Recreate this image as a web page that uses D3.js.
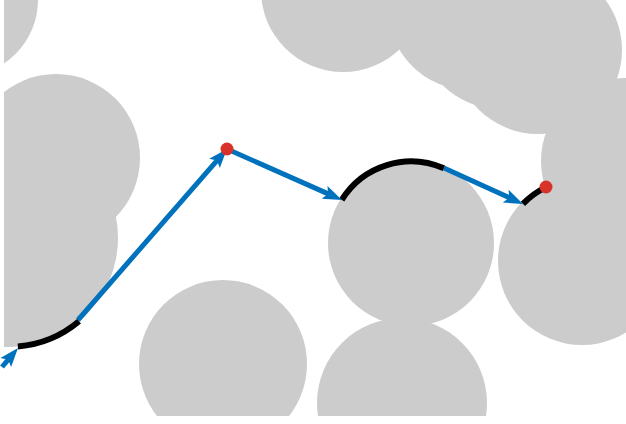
<!DOCTYPE html>
<html lang="en">
<head>
    <meta charset="UTF-8">
    <title>Path around obstacles</title>
    <style>
        body {
            margin: 0;
            background-color: #ffffff;
        }
        svg {
            display: block;
        }
    </style>
</head>
<body>
    <div id="chart"></div>

    <script src="https://cdn.jsdelivr.net/npm/d3@7"></script>
    <script>
        // obstacles (map units, y up)
        const obsX = [-4.2, 5.2, 0.5, 33.9, 46.6, 49.6, 53.4, 62.0, 40.7, 57.8, 21.9, 39.8];
        const obsY = [41.6, 25.8, 17.8, 42.6, 40.8, 38.8, 36.6, 25.5, 17.3, 15.5, 5.2, 1.3];
        const obsR = [7.6, 8.4, 10.9, 8.2, 8.2, 8.1, 8.4, 8.3, 8.3, 8.4, 8.4, 8.5];

        // path waypoints
        const pathX = [-0.2, 1.4, 7.4, 22.3, 33.8, 44.0, 51.9, 54.2];
        const pathY = [4.9, 6.8, 9.6, 26.7, 21.6, 24.8, 21.2, 22.9];

        // straight legs (with arrow) and arcs hugging an obstacle
        const lineFrom = [0, 2, 3, 5];
        const lineTo = [1, 3, 4, 6];
        const arcFrom = [1, 4, 6];
        const arcTo = [2, 5, 7];
        const arcOn = [2, 8, 9];

        // waypoints reached
        const goals = [3, 7];

        const width = 626;
        const height = 424;

        const x = d3.scaleLinear().domain([0, 62.2]).range([4, 626]);
        const y = d3.scaleLinear().domain([0, 41.6]).range([416, 0]);
        const len = r => x(r) - x(0);

        const blue = "#0072bd";

        const svg = d3.select("#chart").append("svg")
            .attr("width", width)
            .attr("height", height);

        svg.append("clipPath").attr("id", "plot")
            .append("rect")
            .attr("x", x(0)).attr("y", y(41.6))
            .attr("width", x(62.2) - x(0))
            .attr("height", y(0) - y(41.6));

        svg.append("g")
            .attr("clip-path", "url(#plot)")
            .selectAll("circle")
            .data(d3.range(obsX.length))
            .join("circle")
            .attr("cx", i => x(obsX[i]))
            .attr("cy", i => y(obsY[i]))
            .attr("r", i => len(obsR[i]))
            .attr("fill", "#cccccc");

        const px = i => x(pathX[i]);
        const py = i => y(pathY[i]);

        // straight legs, shortened so the head covers the end
        const headLen = 19, headHalf = 7;
        const legs = d3.range(lineFrom.length).map(k => {
            const x0 = px(lineFrom[k]), y0 = py(lineFrom[k]);
            const x1 = px(lineTo[k]), y1 = py(lineTo[k]);
            const d = Math.hypot(x1 - x0, y1 - y0);
            return {x0, y0, x1, y1, ux: (x1 - x0) / d, uy: (y1 - y0) / d};
        });

        svg.append("g")
            .selectAll("line")
            .data(legs)
            .join("line")
            .attr("x1", d => d.x0)
            .attr("y1", d => d.y0)
            .attr("x2", d => d.x1 - d.ux * 12)
            .attr("y2", d => d.y1 - d.uy * 12)
            .attr("stroke", blue)
            .attr("stroke-width", 5);

        // arcs around obstacles
        svg.append("g")
            .selectAll("path")
            .data(d3.range(arcFrom.length))
            .join("path")
            .attr("d", k => {
                const o = arcOn[k];
                const cx = x(obsX[o]), cy = y(obsY[o]);
                const a = arcFrom[k], b = arcTo[k];
                const a0 = Math.atan2(py(a) - cy, px(a) - cx);
                const a1 = Math.atan2(py(b) - cy, px(b) - cx);
                let delta = a1 - a0;
                if (delta > Math.PI) delta -= 2 * Math.PI;
                if (delta < -Math.PI) delta += 2 * Math.PI;
                const rr = (Math.hypot(px(a) - cx, py(a) - cy) + Math.hypot(px(b) - cx, py(b) - cy)) / 2;
                const p = d3.path();
                p.moveTo(cx + rr * Math.cos(a0), cy + rr * Math.sin(a0));
                p.arc(cx, cy, rr, a0, a0 + delta, delta < 0);
                return p.toString();
            })
            .attr("fill", "none")
            .attr("stroke", "#000000")
            .attr("stroke-width", 6);

        // arrow heads
        svg.append("g")
            .selectAll("path")
            .data(legs)
            .join("path")
            .attr("d", d => {
                const bx = d.x1 - d.ux * headLen, by = d.y1 - d.uy * headLen;
                const nx = -d.uy, ny = d.ux;
                const mx = d.x1 - d.ux * headLen * 0.8, my = d.y1 - d.uy * headLen * 0.8;
                return `M${d.x1},${d.y1}L${bx + nx * headHalf},${by + ny * headHalf}` +
                    `L${mx},${my}L${bx - nx * headHalf},${by - ny * headHalf}Z`;
            })
            .attr("fill", blue);

        svg.append("g")
            .selectAll("circle")
            .data(goals)
            .join("circle")
            .attr("cx", i => px(i))
            .attr("cy", i => py(i))
            .attr("r", 6.5)
            .attr("fill", "#d8322a");
    </script>
</body>
</html>
